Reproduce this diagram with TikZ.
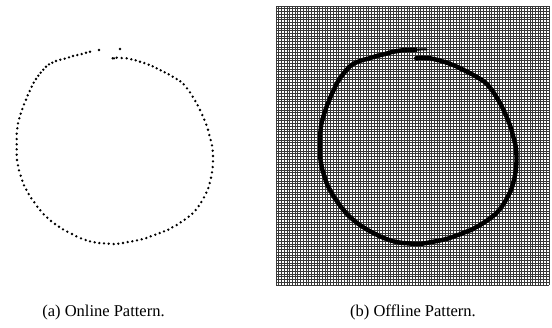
\documentclass[tikz,border=0pt]{standalone}
\usepackage{fontspec}
\setmainfont{Liberation Serif}
\newfontfamily\capfont{Liberation Serif}
\begin{document}
\begin{tikzpicture}[x=1pt,y=-1pt,
  penpoint/.style={fill=black},
  rasterline/.style={draw=black!78,line width=0.75pt},
  rasterstroke/.style={draw=black,line width=4.4pt,line join=round,line cap=butt},
  caption/.style={font=\capfont\fontsize{16.5}{19}\selectfont,anchor=base,inner sep=0pt}]
\useasboundingbox (0,0) rectangle (552,327);

% sampled pen positions of the handwritten stroke (left end to right end)
\def\penpts{90.0/51.7, 86.0/52.7, 81.7/54.0, 77.3/55.0, 73.0/56.0, 69.0/57.3,
 64.7/58.7, 60.3/59.7, 56.0/61.0, 52.3/62.7, 49.0/64.3, 46.0/66.7, 43.3/69.7,
 40.7/72.7, 38.3/75.7, 36.0/79.0, 33.7/82.7, 31.7/86.7, 29.7/91.0, 27.7/95.3,
 26.0/99.7, 24.0/104.3, 22.3/109.0, 20.7/113.7, 19.3/118.3, 18.0/123.3,
 17.3/128.3, 16.7/133.7, 16.7/139.0, 16.7/144.3, 16.7/149.3, 16.7/154.7,
 17.0/160.0, 18.0/165.3, 19.0/170.3, 20.7/175.7, 22.3/180.7, 24.0/185.3,
 26.3/189.7, 28.7/194.0, 31.3/198.3, 34.3/202.3, 37.3/206.7, 40.3/210.3,
 43.7/214.3, 47.3/217.7, 51.0/221.0, 55.0/224.0, 59.0/226.7, 63.0/229.3,
 67.3/231.7, 72.0/234.0, 76.3/236.3, 81.0/238.3, 85.7/240.0, 90.0/241.3,
 94.7/242.3, 99.3/243.0, 104.0/243.3, 108.7/243.7, 113.7/244.0, 118.3/243.7,
 123.0/243.0, 127.7/242.0, 132.3/241.3, 137.0/240.3, 141.7/239.3, 146.3/238.0,
 150.7/236.3, 155.3/234.7, 159.7/233.0, 164.0/231.3, 168.3/229.7, 172.3/227.3,
 176.7/225.0, 180.7/222.3, 184.7/219.7, 188.7/216.7, 192.3/213.7, 195.7/210.0,
 198.7/206.0, 201.3/202.0, 204.0/197.3, 206.3/192.7, 208.3/188.0, 209.7/183.0,
 211.0/177.7, 212.0/172.3, 212.7/167.0, 213.0/161.3, 213.0/156.0, 212.7/150.7,
 212.0/145.3, 210.7/140.0, 209.3/135.0, 208.0/129.7, 206.3/124.7, 204.3/119.7,
 202.3/115.0, 200.0/110.0, 197.7/105.3, 195.3/101.0, 192.7/96.7, 190.0/92.3,
 187.0/88.3, 183.7/84.3, 180.3/81.3, 176.7/79.0, 172.7/76.7, 168.7/74.3,
 164.7/72.3, 160.7/70.3, 156.7/68.3, 152.7/66.3, 148.7/64.7, 144.3/63.0,
 140.0/61.7, 135.7/60.3, 131.3/59.3, 126.7/58.3, 121.7/58.0, 116.7/57.7,
 114.0/58.3, 112.7/58.3}

% (a) online pattern: one dot per pen sample
\foreach \x/\y in \penpts {\fill[penpoint] (\x,\y) circle (1.3);}
\fill[penpoint] (99.0,50.0) circle (1.3);
\fill[penpoint] (120.0,49.0) circle (1.3);

% (b) offline pattern: raster grid
\fill[white] (276,6) rectangle (549,285);
\foreach \i in {0,...,100} {\draw[rasterline] (276+2.73*\i,6) -- (276+2.73*\i,285);}
\foreach \j in {0,...,102} {\draw[rasterline] (276,6+2.735*\j) -- (549,6+2.735*\j);}

% (b) offline pattern: rendered ink stroke
\draw[draw=black,line width=2pt] (416,49.6) -- (427,49.3);
\draw[rasterstroke] (417,49.7) -- (402.5,50.2)
  \foreach \x/\y in \penpts { -- (\x+303.5,\y)} -- (418,58.6);

% captions
\node[caption] (capA) at (103.5,316) {(a) Online Pattern.};
\node[caption] (capB) at (413,316) {(b) Offline Pattern.};
\end{tikzpicture}
\end{document}
